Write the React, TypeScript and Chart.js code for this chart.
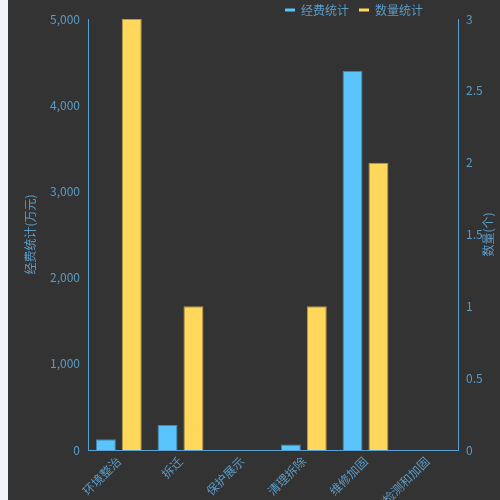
import { useEffect, useRef } from "react"
import { Chart, registerables } from "chart.js"

Chart.register(...registerables)

const categories = ["环境整治", "拆迁", "保护展示", "清理拆除", "维修加固", "结构检测和加固"]
const costValues = [125, 290, 0, 65, 4400, 0]
const countValues = [3, 1, 0, 1, 2, 0]
const seriesNames = ["经费统计", "数量统计"]
const leftAxisTitle = "经费统计(万元)"
const rightAxisTitle = "数量(个)"

const FONT = '"Microsoft YaHei", "Noto Sans CJK SC", sans-serif'
const TEXT = "#5b9bc6"
const AXIS = "#5a9fd2"

// right axis title reads bottom-to-top and sits over the tick labels
const rightTitlePlugin = {
  id: "rightTitle",
  afterDraw(chart: Chart) {
    const { ctx, chartArea } = chart
    const scale = chart.scales.y1
    ctx.save()
    ctx.translate(scale.right - 12, (chartArea.top + chartArea.bottom) / 2)
    ctx.rotate(-Math.PI / 2)
    ctx.font = `12px ${FONT}`
    ctx.fillStyle = TEXT
    ctx.textAlign = "center"
    ctx.textBaseline = "middle"
    ctx.fillText(rightAxisTitle, 0, 0)
    ctx.restore()
  },
}

// legend nudged down a little and pulled in from the right edge
const legendShiftPlugin = {
  id: "legendShift",
  afterLayout(chart: Chart) {
    const legend = chart.legend
    if (!legend) return
    legend.top += 7
    legend.bottom += 7
    legend.right -= 67
  },
}

export default function App() {
  const chartRef = useRef<HTMLCanvasElement>(null)
  const chartInstance = useRef<Chart | null>(null)

  useEffect(() => {
    document.body.style.background = "#f1f3f8"
    if (!chartRef.current) return
    if (chartInstance.current) chartInstance.current.destroy()

    Chart.defaults.font.family = FONT
    Chart.defaults.font.size = 12
    Chart.defaults.color = TEXT

    chartInstance.current = new Chart(chartRef.current, {
      type: "bar",
      data: {
        labels: categories,
        datasets: [
          {
            label: seriesNames[0],
            data: costValues,
            yAxisID: "y",
            backgroundColor: "#5ac5fc",
            borderColor: "#4a86ad",
            borderWidth: 1,
            categoryPercentage: 0.84,
            barPercentage: 0.77,
          },
          {
            label: seriesNames[1],
            data: countValues,
            yAxisID: "y1",
            backgroundColor: "#ffd85b",
            borderColor: "#b39a4c",
            borderWidth: 1,
            categoryPercentage: 0.84,
            barPercentage: 0.77,
          },
        ],
      },
      options: {
        animation: false,
        responsive: true,
        maintainAspectRatio: false,
        layout: { padding: { top: -13, left: 0, right: 0, bottom: 0 } },
        plugins: {
          tooltip: { enabled: false },
          legend: {
            position: "top",
            align: "end",
            labels: {
              color: TEXT,
              usePointStyle: true,
              pointStyle: "line",
              pointStyleWidth: 10,
              padding: 10,
              font: { size: 12, family: FONT },
              generateLabels: (chart) =>
                Chart.defaults.plugins.legend.labels.generateLabels(chart).map((item) => ({
                  ...item,
                  strokeStyle: item.fillStyle,
                  lineWidth: 3,
                })),
            },
          },
        },
        scales: {
          x: {
            grid: { display: false, drawTicks: false },
            border: { display: true, color: AXIS, width: 1 },
            ticks: {
              color: TEXT,
              autoSkip: false,
              minRotation: 45,
              maxRotation: 45,
              padding: 4,
              font: { size: 12, family: FONT },
            },
            afterFit: (scale) => {
              scale.height = 50
            },
          },
          y: {
            position: "left",
            min: 0,
            max: 5000,
            ticks: { stepSize: 1000, color: TEXT, padding: 8, font: { size: 12, family: FONT } },
            grid: { display: false, drawTicks: false },
            border: { display: true, color: AXIS, width: 1 },
            title: {
              display: true,
              text: leftAxisTitle,
              color: TEXT,
              padding: { top: 15, bottom: 0 },
              font: { size: 12, family: FONT },
            },
            afterFit: (scale) => {
              scale.width = 80
            },
          },
          y1: {
            position: "right",
            min: 0,
            max: 3,
            ticks: {
              stepSize: 0.5,
              color: TEXT,
              padding: 8,
              font: { size: 12, family: FONT },
              callback: (value) => String(value),
            },
            grid: { display: false, drawTicks: false },
            border: { display: true, color: AXIS, width: 1 },
            afterFit: (scale) => {
              scale.width = 42
            },
          },
        },
      },
      plugins: [rightTitlePlugin, legendShiftPlugin],
    })

    return () => {
      if (chartInstance.current) {
        chartInstance.current.destroy()
        chartInstance.current = null
      }
    }
  }, [])

  return (
    <div
      style={{
        position: "absolute",
        left: 8,
        top: 0,
        width: 492,
        height: 500,
        background: "#333333",
      }}
    >
      <canvas ref={chartRef} />
    </div>
  )
}
